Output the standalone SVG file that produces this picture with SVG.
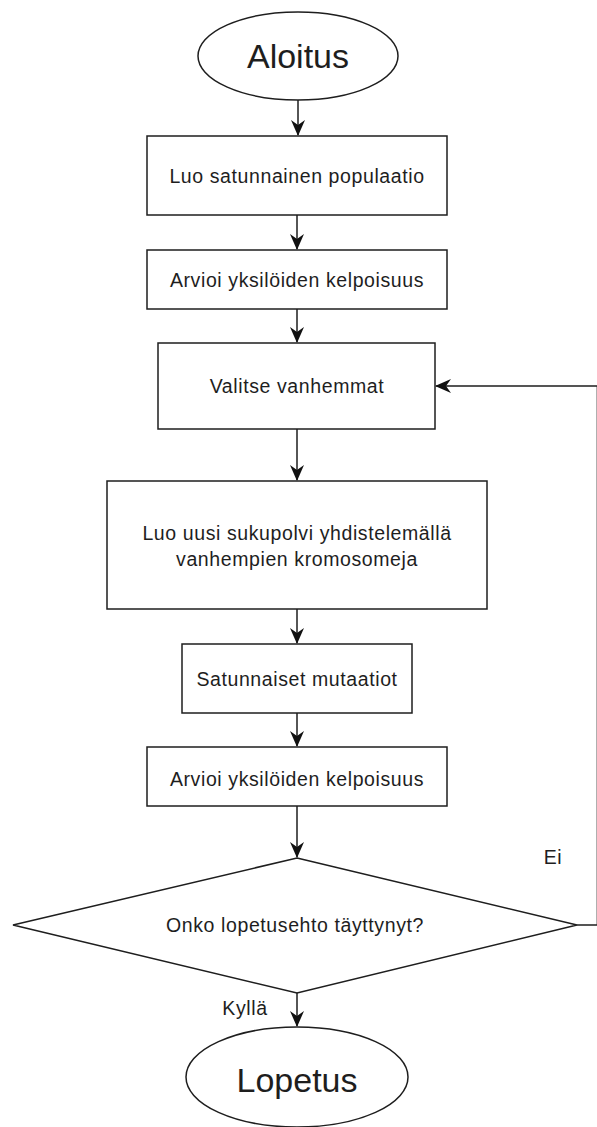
<svg xmlns="http://www.w3.org/2000/svg" width="597" height="1127" viewBox="0 0 597 1127">
  <style>
    .shape { fill: #ffffff; stroke: #1e1e1e; stroke-width: 1.5; }
    .edge { fill: none; stroke: #1e1e1e; stroke-width: 1.5; }
    .lbl { font-family: "Liberation Sans", Arial, sans-serif; font-size: 19.5px; letter-spacing: 0.6px; fill: #1e1e1e; text-anchor: middle; }
    .big { font-family: "Liberation Sans", Arial, sans-serif; font-size: 34px; fill: #1e1e1e; text-anchor: middle; }
  </style>
  <defs>
    <marker id="arrow" viewBox="0 0 16 14" refX="15" refY="7" markerWidth="16" markerHeight="14" markerUnits="userSpaceOnUse" orient="auto">
      <path d="M0,0 L16,7 L0,14 L5,7 z" fill="#111111"/>
    </marker>
  </defs>
  <rect width="597" height="1127" fill="#ffffff"/>

  <!-- connectors -->
  <g id="connectors">
    <path class="edge" d="M298,100 V135" marker-end="url(#arrow)"/>
    <path class="edge" d="M297,215 V249" marker-end="url(#arrow)"/>
    <path class="edge" d="M297,309 V342" marker-end="url(#arrow)"/>
    <path class="edge" d="M297,429 V480" marker-end="url(#arrow)"/>
    <path class="edge" d="M297,609 V643" marker-end="url(#arrow)"/>
    <path class="edge" d="M297,713 V746" marker-end="url(#arrow)"/>
    <path class="edge" d="M297,806 V857" marker-end="url(#arrow)"/>
    <path class="edge" d="M297,993 V1026" marker-end="url(#arrow)"/>
    <!-- "Ei" branch loops back to parent selection -->
    <path class="edge" d="M577,925 H597.4 V386 H436" marker-end="url(#arrow)"/>
    <text class="lbl" x="553" y="864">Ei</text>
    <text class="lbl" x="245" y="1015">Kyllä</text>
  </g>

  <g id="start">
    <ellipse class="shape" cx="298" cy="56" rx="100" ry="44"/>
    <text class="big" x="298" y="68">Aloitus</text>
  </g>

  <g id="init-population">
    <rect class="shape" x="147" y="136" width="300" height="79"/>
    <text class="lbl" x="297" y="183">Luo satunnainen populaatio</text>
  </g>

  <g id="evaluate-1">
    <rect class="shape" x="147" y="250" width="300" height="59"/>
    <text class="lbl" x="297" y="287">Arvioi yksilöiden kelpoisuus</text>
  </g>

  <g id="select-parents">
    <rect class="shape" x="158" y="343" width="277" height="86"/>
    <text class="lbl" x="297" y="393">Valitse vanhemmat</text>
  </g>

  <g id="crossover">
    <rect class="shape" x="107" y="481" width="380" height="128"/>
    <text class="lbl" x="297" y="540">Luo uusi sukupolvi yhdistelemällä</text>
    <text class="lbl" x="297" y="566">vanhempien kromosomeja</text>
  </g>

  <g id="mutation">
    <rect class="shape" x="182" y="644" width="230" height="69"/>
    <text class="lbl" x="297" y="686">Satunnaiset mutaatiot</text>
  </g>

  <g id="evaluate-2">
    <rect class="shape" x="147" y="747" width="300" height="59"/>
    <text class="lbl" x="297" y="786">Arvioi yksilöiden kelpoisuus</text>
  </g>

  <g id="stop-check">
    <polygon class="shape" points="297,858 577,925 297,993 13,925"/>
    <text class="lbl" x="295" y="932">Onko lopetusehto täyttynyt?</text>
  </g>

  <g id="end">
    <ellipse class="shape" cx="297" cy="1077" rx="111" ry="50"/>
    <text class="big" x="297" y="1092">Lopetus</text>
  </g>
</svg>
